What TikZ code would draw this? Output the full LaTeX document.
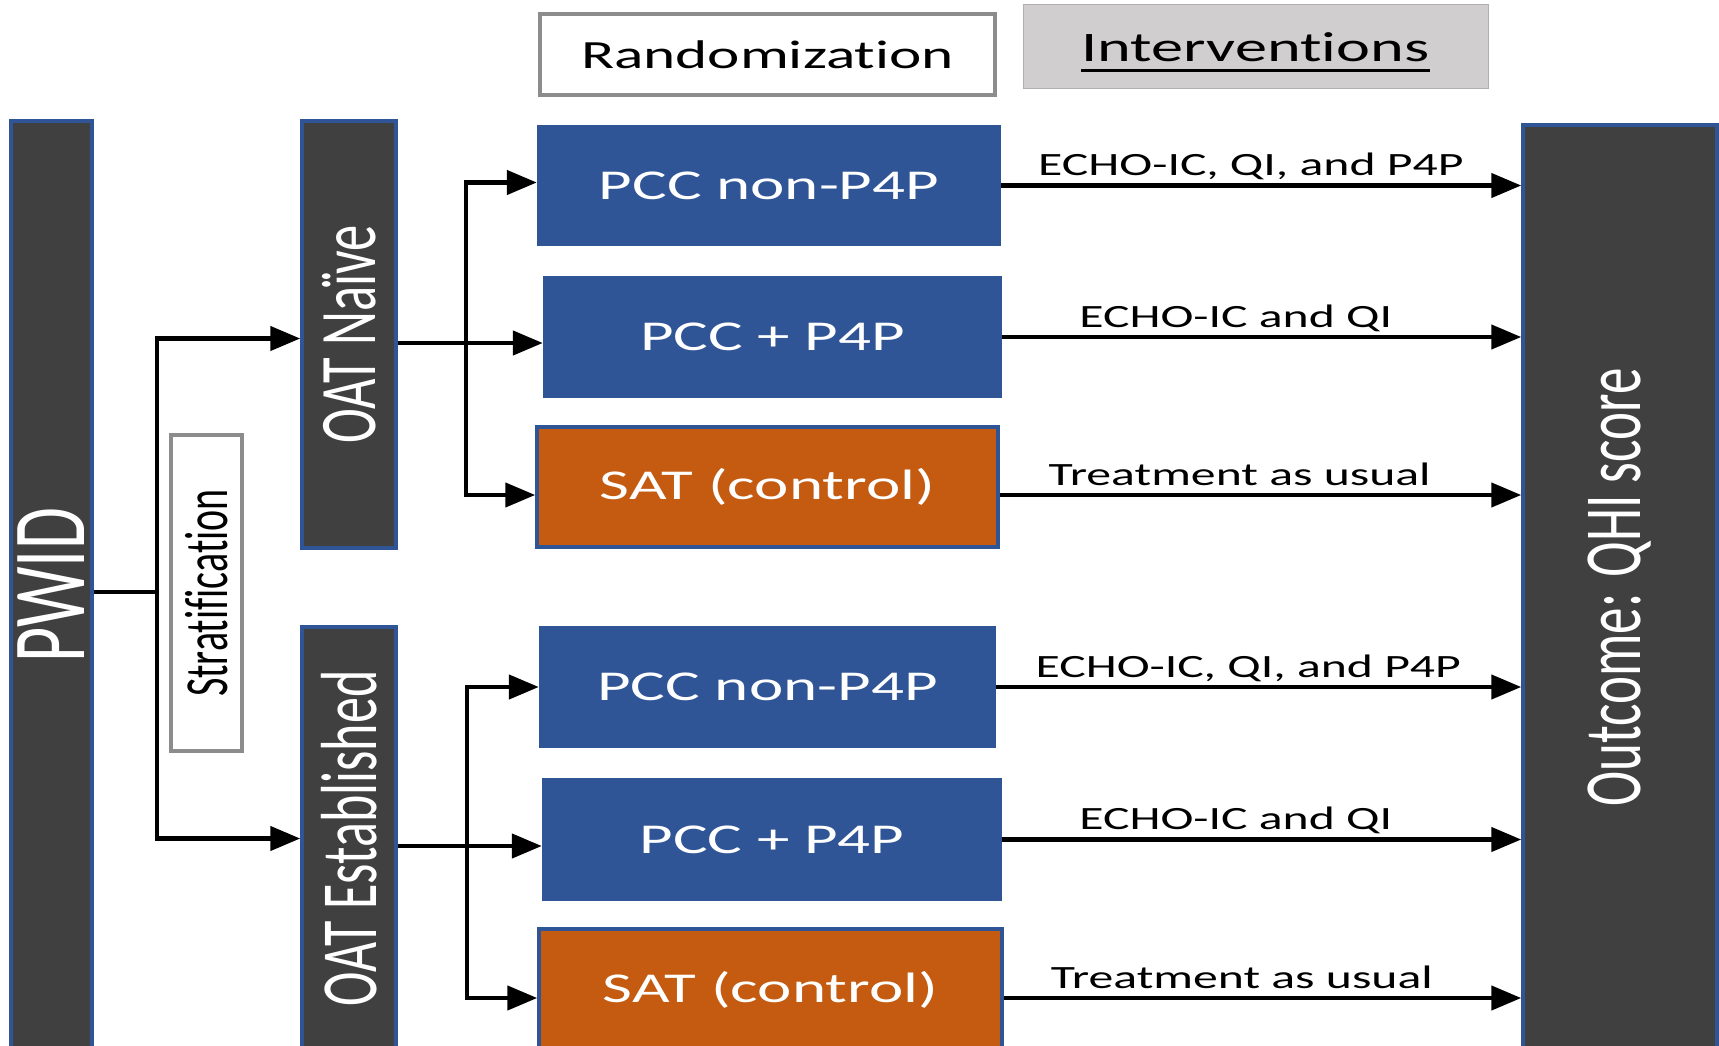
\documentclass[tikz,border=0pt]{standalone}
\usepackage{graphicx}
\usepackage{fontspec}
\setmainfont[FakeStretch=1.53,Ligatures={NoCommon},Contextuals={NoAlternate}]{Carlito}
\newfontfamily\plainfont[Ligatures={NoCommon},Contextuals={NoAlternate}]{Carlito}
\usetikzlibrary{arrows.meta,calc}
\definecolor{dk}{HTML}{404040}
\definecolor{bl}{HTML}{2F5597}
\definecolor{og}{HTML}{C55A11}
\definecolor{lg}{HTML}{D0CECE}
\definecolor{gr}{HTML}{8C8C8C}
\newcommand\rotlabel[2]{\rotatebox{90}{\scalebox{1}[1.53]{\plainfont\fontsize{#1}{#1}\selectfont #2}}}
\begin{document}
\begin{tikzpicture}[x=1pt,y=-1pt,
  darkbar/.style={fill=dk, draw=bl, line width=3.5pt, inner sep=0pt, text=white},
  bluebox/.style={fill=bl, inner sep=0pt, text=white, font=\fontsize{42.5}{45}\selectfont},
  orbox/.style={fill=og, draw=bl, line width=3.5pt, inner sep=0pt, text=white, font=\fontsize{42.5}{45}\selectfont},
  graybox/.style={fill=white, draw=gr, line width=3.5pt, inner sep=0pt},
  arr/.style={line width=4.5pt, -{Triangle[length=30pt,width=24pt]}},
  plain/.style={line width=4.5pt},
  lab/.style={anchor=base, yshift=10pt, inner sep=0pt, font=\fontsize{32.5}{34}\selectfont}]
\clip (0,0) rectangle (1719,1046);
\fill[white] (0,0) rectangle (1719,1046);

% header boxes
\node[graybox, minimum width=455pt, minimum height=81pt, font=\fontsize{40}{42}\selectfont] (rand) at (767.5,54.5) {Randomization};
\node[fill=lg, draw=lg!85!black, line width=1pt, minimum width=465pt, minimum height=84pt, inner sep=0pt] (interv) at (1255.5,47) {};
\node[inner sep=0pt, font=\fontsize{42}{44}\selectfont] (intt) at (interv.center) {Interventions};
\draw[line width=3pt] ([yshift=-9pt]intt.base west) -- ([yshift=-9pt]intt.base east);

% vertical bars
\node[darkbar, minimum width=81pt, minimum height=929pt] (pwid) at (51.5,585.5) {\rotlabel{68}{PWID}};
\node[graybox, line width=4pt, minimum width=71pt, minimum height=316pt] (strat) at (206.5,593) {\rotlabel{40}{Stratification}};
\node[darkbar, minimum width=94pt, minimum height=427pt] (oatn) at (349,334.5) {\rotlabel{52.5}{OAT Naïve}};
\node[darkbar, minimum width=94pt, minimum height=423pt] (oate) at (349,838.5) {\rotlabel{52}{OAT Established}};
\node[darkbar, minimum width=194pt, minimum height=925pt] (outc) at (1620,587.5) {\rotlabel{53}{Outcome: QHI score}};

% arms
\node[bluebox, minimum width=464pt, minimum height=121pt] (p1a) at (769,185.5) {PCC non-P4P};
\node[bluebox, minimum width=459pt, minimum height=122pt] (p1b) at (772.5,337) {PCC + P4P};
\node[orbox, minimum width=461pt, minimum height=120pt] (s1) at (767.5,487) {SAT (control)};
\node[bluebox, minimum width=457pt, minimum height=122pt] (p2a) at (767.5,687) {PCC non-P4P};
\node[bluebox, minimum width=460pt, minimum height=123pt] (p2b) at (772,839.5) {PCC + P4P};
\node[orbox, minimum width=463pt, minimum height=121pt] (s2) at (770.5,989.5) {SAT (control)};

% stratification fork
\coordinate (f0) at (157,592);
\draw[plain] (pwid.east |- f0) -- (f0);
\draw[arr] (f0) |- ([yshift=-4pt]oatn.west);
\draw[arr] (f0) |- (oate.west);

% randomization forks
\coordinate (f1) at (466,343);
\draw[arr] (oatn.east |- f1) -- (p1b.west |- f1);
\draw[arr] (f1) |- ([yshift=3pt]p1a.west);
\draw[arr] (f1) |- ([yshift=-8pt]s1.west);

\coordinate (f2) at (467,846);
\draw[arr] (oate.east |- f2) -- (p2b.west |- f2);
\draw[arr] (f2) |- (p2a.west);
\draw[arr] (f2) |- ([yshift=-8.5pt]s2.west);

% interventions
\draw[arr] (p1a.east) -- (p1a.east -| outc.west) node[lab, pos=0.48] {ECHO-IC, QI, and P4P};
\draw[arr] (p1b.east) -- (p1b.east -| outc.west) node[lab, pos=0.45] {ECHO-IC and QI};
\draw[arr] ([yshift=-8pt]s1.east) -- ([yshift=-8pt]s1.east -| outc.west) node[lab, pos=0.46] {Treatment as usual};
\draw[arr] (p2a.east) -- (p2a.east -| outc.west) node[lab, pos=0.48] {ECHO-IC, QI, and P4P};
\draw[arr] (p2b.east) -- (p2b.east -| outc.west) node[lab, pos=0.45] {ECHO-IC and QI};
\draw[arr] ([yshift=-8.5pt]s2.east) -- ([yshift=-8.5pt]s2.east -| outc.west) node[lab, pos=0.46] {Treatment as usual};
\end{tikzpicture}
\end{document}
